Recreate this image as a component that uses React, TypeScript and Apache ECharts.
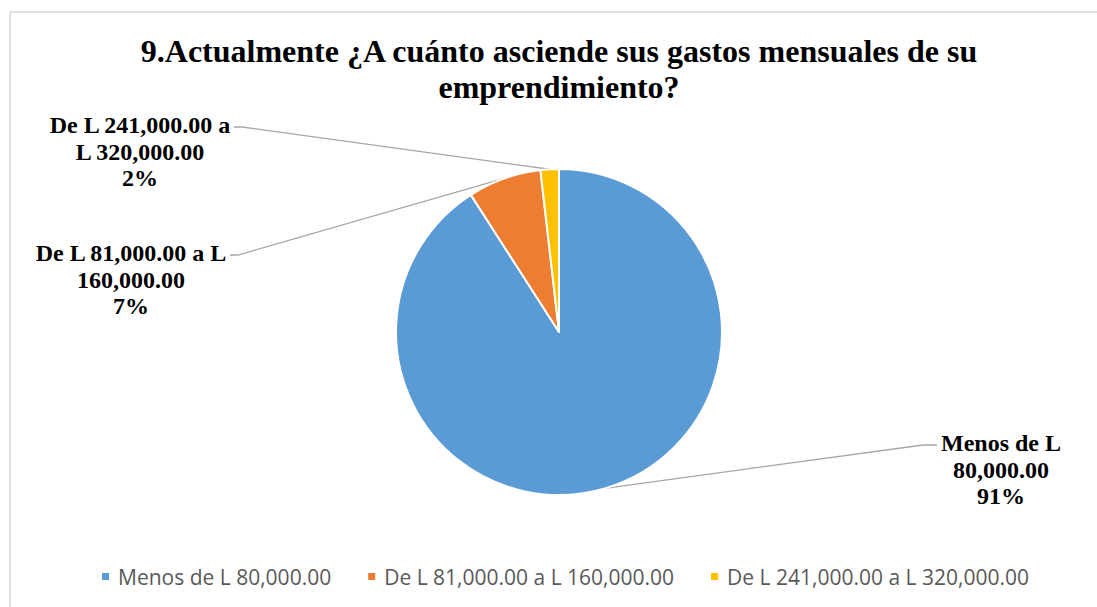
import React, { useEffect, useRef } from "react";
import * as echarts from "echarts";

const TITLE = "9.Actualmente ¿A cuánto asciende sus gastos mensuales de su\nemprendimiento?";
const categories = [
  "Menos de L 80,000.00",
  "De L 81,000.00 a L 160,000.00",
  "De L 241,000.00 a L 320,000.00",
];
const labelTexts = [
  "Menos de L\n80,000.00",
  "De L 81,000.00 a L\n160,000.00",
  "De L 241,000.00 a\nL 320,000.00",
];
const values = [50, 4, 1];
const colors = ["#5B9BD5", "#ED7D31", "#FFC000"];

// label anchor positions (center x, top y) and side of the leader line
const labelAnchors = [
  { x: 1001, y: 430, side: "left" },
  { x: 131, y: 240, side: "right" },
  { x: 140, y: 112, side: "right" },
];

export default function App() {
  const ref = useRef<HTMLDivElement>(null);
  useEffect(() => {
    if (!ref.current) return;
    const chart = echarts.init(ref.current, null, { renderer: "svg" });
    const cx = 559;
    const cy = 332;
    const r = 163;
    const total = values.reduce((a, b) => a + b, 0);
    chart.setOption({
      animation: false,
      backgroundColor: "#ffffff",
      color: colors,
      title: {
        text: TITLE,
        left: 559,
        textAlign: "center",
        top: 33,
        padding: 0,
        textStyle: {
          fontFamily: "Liberation Serif",
          fontWeight: "bold",
          fontSize: 32,
          lineHeight: 36,
          color: "#000000",
        },
      },
      graphic: [
        {
          type: "rect",
          shape: { x: 10, y: 12, width: 1100, height: 610 },
          style: { fill: "none", stroke: "#d9d9d9", lineWidth: 1.5 },
          silent: true,
          z: -1,
        },
      ],
      legend: {
        left: 100,
        top: 566,
        padding: 0,
        itemWidth: 9,
        itemHeight: 9,
        itemGap: 35,
        icon: "rect",
        textStyle: {
          fontFamily: "Open Sans",
          fontSize: 21,
          color: "#595959",
          padding: [0, 0, 0, 3],
        },
        data: categories,
      },
      series: [
        {
          type: "pie",
          center: [cx, cy],
          radius: r,
          startAngle: 90,
          clockwise: true,
          avoidLabelOverlap: false,
          itemStyle: { borderColor: "#ffffff", borderWidth: 2 },
          label: {
            show: true,
            position: "outside",
            fontFamily: "Liberation Serif",
            fontWeight: "bold",
            fontSize: 24,
            lineHeight: 26.5,
            color: "#000000",
            align: "center",
            formatter: (p: any) => `${labelTexts[p.dataIndex]}\n${Math.round(p.percent)}%`,
          },
          labelLine: {
            show: true,
            length: 10,
            length2: 10,
            lineStyle: { color: "#a6a6a6", width: 1.3 },
          },
          labelLayout: (params: any) => {
            const a = labelAnchors[params.dataIndex];
            const w = params.labelRect.width;
            let p0 = params.labelLinePoints && params.labelLinePoints[0];
            if (!p0) {
              let cum = 0;
              for (let i = 0; i < params.dataIndex; i++) cum += values[i];
              const mid = ((cum + values[params.dataIndex] / 2) / total) * Math.PI * 2;
              p0 = [cx + r * Math.sin(mid), cy - r * Math.cos(mid)];
            }
            const ly = a.y + 15;
            const ex = a.side === "right" ? a.x + w / 2 + 3 : a.x - w / 2 - 4;
            const bx = a.side === "right" ? ex + 8 : ex - 14;
            return {
              x: a.x,
              y: a.y,
              align: "center",
              verticalAlign: "top",
              labelLinePoints: [p0, [bx, ly], [ex, ly]],
            };
          },
          data: categories.map((name, i) => ({ name, value: values[i] })),
        },
      ],
    });
    return () => chart.dispose();
  }, []);
  return (
    <div
      ref={ref}
      style={{ position: "absolute", left: 0, top: 0, width: 1097, height: 607 }}
    />
  );
}
